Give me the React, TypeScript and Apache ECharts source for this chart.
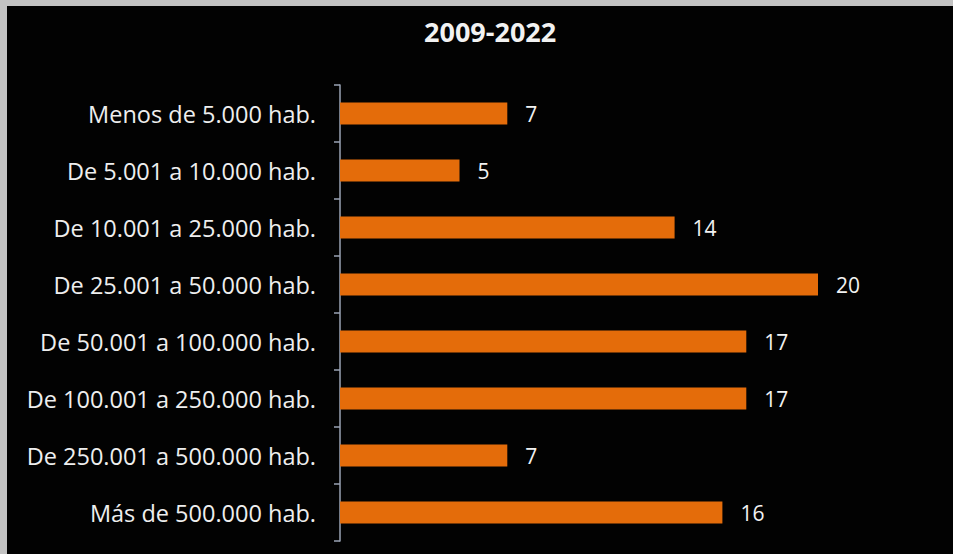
import React, { useEffect, useRef } from "react";
import * as echarts from "echarts";

const categories = [
  "Menos de 5.000 hab.",
  "De 5.001 a 10.000 hab.",
  "De 10.001 a 25.000 hab.",
  "De 25.001 a 50.000 hab.",
  "De 50.001 a 100.000 hab.",
  "De 100.001 a 250.000 hab.",
  "De 250.001 a 500.000 hab.",
  "Más de 500.000 hab.",
];
const values = [7, 5, 14, 20, 17, 17, 7, 16];
const titleText = "2009-2022";

export default function App() {
  const ref = useRef<HTMLDivElement>(null);
  useEffect(() => {
    if (!ref.current) return;
    const chart = echarts.init(ref.current, undefined, { renderer: "svg" });
    const font = "'Open Sans', sans-serif";
    chart.setOption({
      animation: false,
      backgroundColor: "#020202",
      title: {
        text: titleText,
        left: 412,
        top: 7,
        textStyle: { color: "#f2f2f2", fontSize: 27, fontWeight: "bold", fontFamily: font },
      },
      grid: { left: 333, top: 79, bottom: 13, right: 15.5, containLabel: false },
      xAxis: {
        type: "value",
        min: 0,
        max: 25,
        show: false,
      },
      yAxis: {
        type: "category",
        inverse: true,
        data: categories,
        axisLine: { show: true, lineStyle: { color: "#9aa3b5", width: 1.5 } },
        axisTick: { show: true, length: 6, lineStyle: { color: "#9aa3b5", width: 1.5 } },
        axisLabel: { color: "#eeeeee", fontSize: 23.5, fontFamily: font, margin: 24 },
        splitLine: { show: false },
      },
      series: [
        {
          type: "bar",
          data: values,
          barWidth: 22,
          itemStyle: { color: "#e46c0a" },
          label: {
            show: true,
            position: "right",
            distance: 18,
            color: "#f2f2f2",
            fontSize: 21,
            fontFamily: font,
          },
        },
      ],
    });
    return () => chart.dispose();
  }, []);
  return (
    <div style={{ position: "fixed", left: 0, top: 0, width: 953, height: 554, background: "#c3c3c3" }}>
      <div ref={ref} style={{ position: "absolute", left: 7, top: 6, width: 946, height: 548 }} />
    </div>
  );
}
